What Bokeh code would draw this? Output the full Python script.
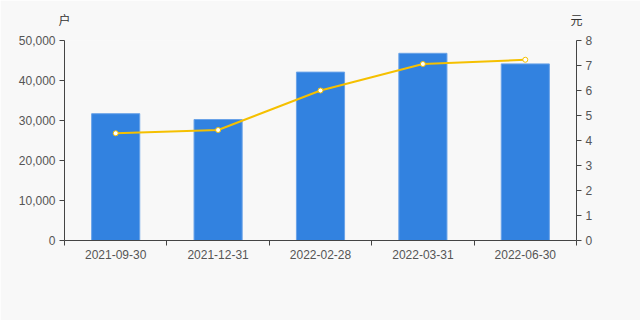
import numpy as np
from bokeh.plotting import figure
from bokeh.models import Range1d, LinearAxis, FixedTicker, NumeralTickFormatter, ColumnDataSource
from bokeh.embed import file_html
from bokeh.resources import INLINE

dates = ["2021-09-30", "2021-12-31", "2022-02-28", "2022-03-31", "2022-06-30"]
holders = [31700, 30250, 42100, 46800, 44150]
price = [4.29, 4.42, 6.0, 7.06, 7.23]
unit_left = "户"
unit_right = "元"

FONT = "Liberation Sans"
TXT = "#555555"
AX = "#444444"
BG = "#f8f8f8"

n = len(dates)
xs = np.arange(n) + 0.5
src = ColumnDataSource(dict(x=xs, h=holders, p=price))

p = figure(width=640, height=320, output_backend="svg", toolbar_location=None,
           x_range=Range1d(0, n), y_range=Range1d(0, 50000),
           min_border_left=64, min_border_right=64, min_border_top=40, min_border_bottom=80,
           background_fill_color=BG, border_fill_color=BG, outline_line_color=None)
p.extra_y_ranges = {"r": Range1d(0, 8)}
p.xgrid.visible = False
p.ygrid.visible = False

p.vbar(x="x", top="h", width=0.47, source=src, fill_color="#3282e0", line_color="#6aa3e8", line_width=1)
p.line(x="x", y="p", source=src, y_range_name="r", line_color="#f5c000", line_width=2)
p.scatter(x="x", y="p", source=src, y_range_name="r", size=5, fill_color="white",
          line_color="#f5c000", line_width=1)

# x axis
xa = p.xaxis[0]
xa.ticker = FixedTicker(ticks=list(xs), minor_ticks=list(range(n + 1)))
xa.major_label_overrides = {float(x): d for x, d in zip(xs, dates)}
xa.major_tick_out = 0
xa.major_tick_in = 0
xa.minor_tick_out = 5
xa.minor_tick_in = 0
xa.minor_tick_line_color = AX
xa.axis_line_color = AX
xa.major_label_text_color = TXT
xa.major_label_text_font = FONT
xa.major_label_text_font_size = "12px"
xa.major_label_standoff = 4

# left axis
ya = p.yaxis[0]
ya.ticker = FixedTicker(ticks=[0, 10000, 20000, 30000, 40000, 50000])
ya.formatter = NumeralTickFormatter(format="0,0")
ya.major_tick_out = 5
ya.major_tick_in = 0
ya.minor_tick_line_color = None
ya.axis_line_color = AX
ya.major_tick_line_color = AX
ya.major_label_text_color = TXT
ya.major_label_text_font = FONT
ya.major_label_text_font_size = "12px"
ya.major_label_standoff = 4

# right axis
ra = LinearAxis(y_range_name="r", ticker=FixedTicker(ticks=list(range(0, 9))))
ra.major_tick_out = 5
ra.major_tick_in = 0
ra.minor_tick_line_color = None
ra.axis_line_color = AX
ra.major_tick_line_color = AX
ra.major_label_text_color = TXT
ra.major_label_text_font = FONT
ra.major_label_text_font_size = "12px"
ra.major_label_standoff = 4
p.add_layout(ra, "right")

# unit labels above each y axis
ua = LinearAxis(ticker=FixedTicker(ticks=[0, n]), major_label_overrides={0: unit_left, n: unit_right})
ua.axis_line_color = None
ua.major_tick_line_color = None
ua.minor_tick_line_color = None
ua.major_label_standoff = 7
ua.major_label_text_font = "Noto Sans CJK SC"
ua.major_label_text_font_size = "12px"
ua.major_label_text_color = "#333333"
p.add_layout(ua, "above")

open("out.html", "w").write(file_html(p, INLINE))
